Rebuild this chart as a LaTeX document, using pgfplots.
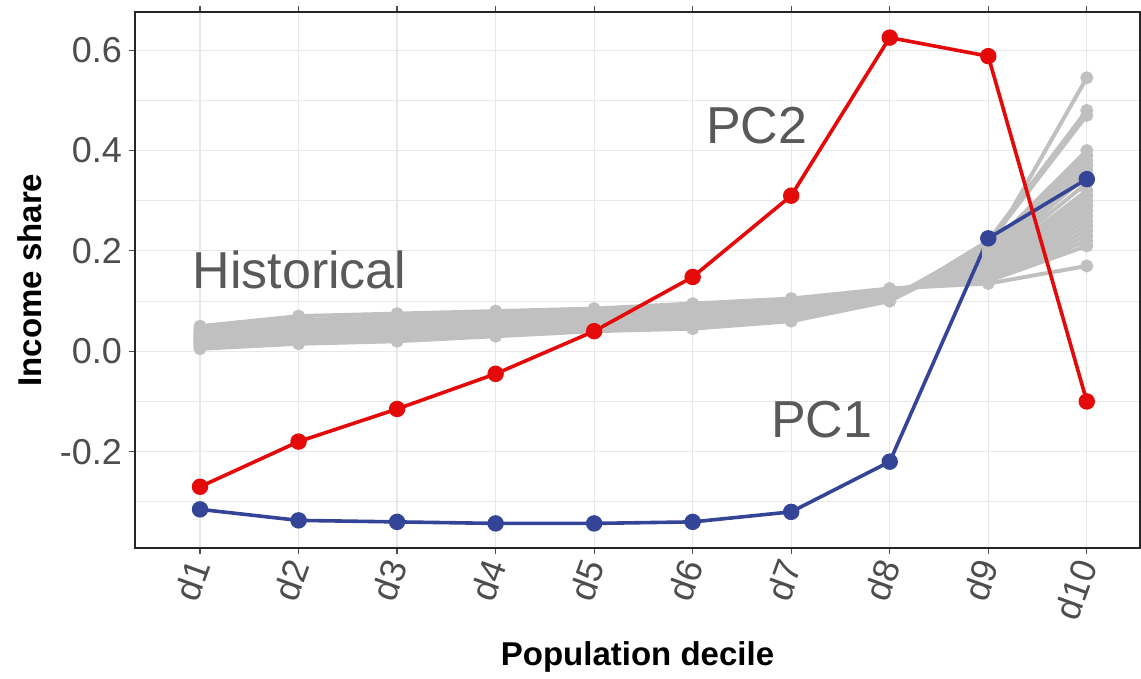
\documentclass[border=0pt]{standalone}
\usepackage{pgfplots}
\pgfplotsset{compat=1.18}
\usepackage{fontspec}
\setmainfont{Liberation Sans}
\definecolor{pcred}{RGB}{228,10,10}
\definecolor{pcblue}{RGB}{52,68,150}
\definecolor{histc}{RGB}{192,192,192}
\definecolor{gridc}{RGB}{232,232,232}
\definecolor{tickc}{RGB}{77,77,77}
\definecolor{annc}{RGB}{89,89,89}
\pgfplotsset{hl/.style={color=histc, line width=2pt, mark=*, mark size=2.2pt, mark options={fill=histc, draw=histc}}}
\begin{document}
\begin{tikzpicture}
\path[use as bounding box] (-67.5pt,-65.5pt) rectangle (503pt,274pt);
\begin{axis}[
  at={(0,0)}, anchor=south west,
  scale only axis, width=502.5pt, height=268pt,
  xmin=0.34, xmax=10.54, ymin=-0.392, ymax=0.676,
  xtick={1,...,10},
  xticklabels={d1,d2,d3,d4,d5,d6,d7,d8,d9,d10},
  ytick={-0.2,0,0.2,0.4,0.6},
  yticklabels={-0.2,0.0,0.2,0.4,0.6},
  minor ytick={-0.3,-0.1,0.1,0.3,0.5},
  grid=both,
  major grid style={gridc, line width=0.6pt},
  minor grid style={gridc, line width=0.4pt},
  axis line style={draw=black!85, line width=0.6pt},
  tick align=outside,
  major tick length=3pt,
  tick style={tickc, line width=0.6pt},
  minor tick length=0pt,
  ticklabel style={font=\fontsize{18}{20}\selectfont, text=tickc},
  xticklabel style={rotate=70, anchor=east, yshift=-1pt},
  xlabel={\textbf{Population decile}},
  ylabel={\textbf{Income share}},
  label style={font=\fontsize{16.5}{18}\selectfont},
  xlabel style={yshift=-2pt},
  ylabel style={yshift=2pt},
  clip=false,
]
\addplot[hl] coordinates {(1,0.005)(2,0.015)(3,0.02)(4,0.03)(5,0.04)(6,0.045)(7,0.06)(8,0.10)(9,0.20)(10,0.545)};
\addplot[hl] coordinates {(1,0.008)(2,0.018)(3,0.025)(4,0.033)(5,0.042)(6,0.05)(7,0.065)(8,0.10)(9,0.22)(10,0.48)};
\addplot[hl] coordinates {(1,0.01)(2,0.02)(3,0.027)(4,0.035)(5,0.045)(6,0.052)(7,0.07)(8,0.105)(9,0.215)(10,0.47)};
\addplot[hl] coordinates {(1,0.012)(2,0.022)(3,0.03)(4,0.038)(5,0.048)(6,0.056)(7,0.072)(8,0.107)(9,0.205)(10,0.40)};
\addplot[hl] coordinates {(1,0.013)(2,0.023)(3,0.031)(4,0.039)(5,0.049)(6,0.058)(7,0.073)(8,0.108)(9,0.20)(10,0.39)};
\addplot[hl] coordinates {(1,0.015)(2,0.025)(3,0.033)(4,0.041)(5,0.05)(6,0.06)(7,0.075)(8,0.11)(9,0.195)(10,0.38)};
\addplot[hl] coordinates {(1,0.017)(2,0.027)(3,0.035)(4,0.043)(5,0.052)(6,0.062)(7,0.077)(8,0.111)(9,0.19)(10,0.37)};
\addplot[hl] coordinates {(1,0.018)(2,0.028)(3,0.036)(4,0.044)(5,0.053)(6,0.063)(7,0.078)(8,0.112)(9,0.185)(10,0.36)};
\addplot[hl] coordinates {(1,0.02)(2,0.031)(3,0.039)(4,0.047)(5,0.056)(6,0.066)(7,0.081)(8,0.114)(9,0.18)(10,0.35)};
\addplot[hl] coordinates {(1,0.022)(2,0.033)(3,0.041)(4,0.049)(5,0.058)(6,0.068)(7,0.083)(8,0.115)(9,0.175)(10,0.335)};
\addplot[hl] coordinates {(1,0.023)(2,0.034)(3,0.042)(4,0.05)(5,0.059)(6,0.069)(7,0.084)(8,0.116)(9,0.17)(10,0.32)};
\addplot[hl] coordinates {(1,0.025)(2,0.036)(3,0.044)(4,0.052)(5,0.061)(6,0.071)(7,0.086)(8,0.117)(9,0.165)(10,0.31)};
\addplot[hl] coordinates {(1,0.026)(2,0.037)(3,0.045)(4,0.053)(5,0.062)(6,0.072)(7,0.087)(8,0.118)(9,0.16)(10,0.30)};
\addplot[hl] coordinates {(1,0.028)(2,0.039)(3,0.047)(4,0.055)(5,0.064)(6,0.074)(7,0.089)(8,0.119)(9,0.158)(10,0.29)};
\addplot[hl] coordinates {(1,0.03)(2,0.041)(3,0.049)(4,0.057)(5,0.066)(6,0.075)(7,0.09)(8,0.12)(9,0.155)(10,0.28)};
\addplot[hl] coordinates {(1,0.032)(2,0.043)(3,0.051)(4,0.059)(5,0.068)(6,0.077)(7,0.092)(8,0.12)(9,0.152)(10,0.27)};
\addplot[hl] coordinates {(1,0.034)(2,0.045)(3,0.053)(4,0.061)(5,0.07)(6,0.079)(7,0.093)(8,0.121)(9,0.15)(10,0.26)};
\addplot[hl] coordinates {(1,0.036)(2,0.048)(3,0.056)(4,0.064)(5,0.072)(6,0.081)(7,0.095)(8,0.122)(9,0.148)(10,0.25)};
\addplot[hl] coordinates {(1,0.038)(2,0.05)(3,0.058)(4,0.066)(5,0.074)(6,0.083)(7,0.096)(8,0.122)(9,0.145)(10,0.24)};
\addplot[hl] coordinates {(1,0.04)(2,0.053)(3,0.061)(4,0.068)(5,0.076)(6,0.085)(7,0.098)(8,0.123)(9,0.143)(10,0.23)};
\addplot[hl] coordinates {(1,0.042)(2,0.055)(3,0.063)(4,0.07)(5,0.078)(6,0.087)(7,0.099)(8,0.123)(9,0.142)(10,0.22)};
\addplot[hl] coordinates {(1,0.046)(2,0.062)(3,0.068)(4,0.075)(5,0.082)(6,0.091)(7,0.102)(8,0.124)(9,0.14)(10,0.21)};
\addplot[hl] coordinates {(1,0.05)(2,0.07)(3,0.075)(4,0.08)(5,0.085)(6,0.095)(7,0.105)(8,0.125)(9,0.135)(10,0.17)};
\addplot[pcblue, line width=1.8pt, mark=*, mark size=3.2pt, mark options={fill=pcblue, draw=pcblue}] coordinates {(1,-0.315)(2,-0.337)(3,-0.34)(4,-0.343)(5,-0.343)(6,-0.34)(7,-0.32)(8,-0.22)(9,0.225)(10,0.343)};
\addplot[pcred, line width=1.8pt, mark=*, mark size=3.2pt, mark options={fill=pcred, draw=pcred}] coordinates {(1,-0.27)(2,-0.18)(3,-0.115)(4,-0.045)(5,0.04)(6,0.148)(7,0.31)(8,0.625)(9,0.588)(10,-0.10)};
\node[font=\fontsize{26}{28}\selectfont, text=annc] at (axis cs:2.01,0.162) {Historical};
\node[font=\fontsize{26}{28}\selectfont, text=annc] at (axis cs:6.65,0.45) {PC2};
\node[font=\fontsize{26}{28}\selectfont, text=annc] at (axis cs:7.31,-0.136) {PC1};
\end{axis}
\end{tikzpicture}
\end{document}
